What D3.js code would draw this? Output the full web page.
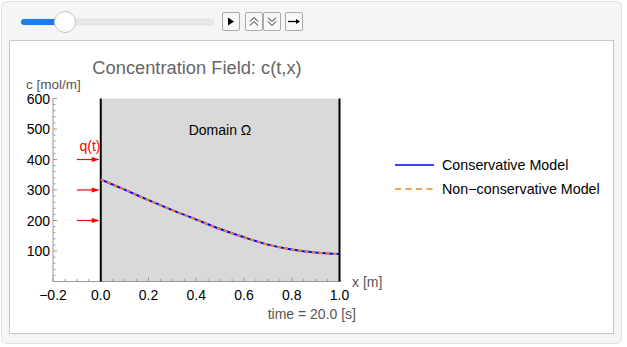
<!DOCTYPE html>
<html><head><meta charset="utf-8">
<script src="https://cdn.jsdelivr.net/npm/d3@7"></script>
<style>
html,body{margin:0;padding:0;background:#fff;}
svg{display:block;font-family:"Liberation Sans",Arial,sans-serif;}
</style></head>
<body><svg id="c" width="627" height="347"></svg>
<script>
// ---- data ----
const xValues = [0, 0.1, 0.2, 0.3, 0.4, 0.5, 0.6, 0.7, 0.8, 0.9, 1.0];
const conservative = [335, 301, 267, 234, 203, 172, 145, 121, 105, 95, 90];
const nonConservative = [335, 301, 267, 234, 203, 172, 145, 121, 105, 95, 90];
const xTicks = [-0.2, 0, 0.2, 0.4, 0.6, 0.8, 1.0];
const yTicks = [100, 200, 300, 400, 500, 600];
const fluxArrows = [400, 300, 200];
const seriesNames = ["Conservative Model", "Non\u2212conservative Model"];
const timeValue = 20.0;

const svg = d3.select("#c");
// outer frame
svg.append("rect").attr("x",1.5).attr("y",1.5).attr("width",620).attr("height",342)
  .attr("rx",5).attr("fill","#f5f5f5").attr("stroke","#e2e2e2");
// inner panel
svg.append("rect").attr("x",9.5).attr("y",40.5).attr("width",604).attr("height",293)
  .attr("fill","#fff").attr("stroke","#c8c8c8");

// slider
svg.append("rect").attr("x",21).attr("y",19).attr("width",193).attr("height",6).attr("rx",3)
  .attr("fill","#e8e8e8").attr("stroke","#d6d6d6").attr("stroke-width",0.5);
svg.append("rect").attr("x",21).attr("y",19).attr("width",42).attr("height",6).attr("rx",3).attr("fill","#1a7cf2");
svg.append("circle").attr("cx",65).attr("cy",22).attr("r",10.5).attr("fill","#fff").attr("stroke","#c4c4c4");
// buttons
const btns = [[222,"play"],[245,"up"],[263,"down"],[285,"arrow"]];
btns.forEach(([bx,t])=>{
  svg.append("rect").attr("x",bx+0.5).attr("y",12.5).attr("width",17).attr("height",18).attr("rx",1.5)
    .attr("fill","#f8f8f8").attr("stroke","#a9a9a9");
  const cx = bx+9, cy = 21.5;
  if(t==="play") svg.append("path").attr("d",`M${cx-3},${cy-4}L${cx+3},${cy}L${cx-3},${cy+4}Z`).attr("fill","#000");
  if(t==="up"){ [ -2, 2].forEach(o=>svg.append("path").attr("d",`M${cx-4},${cy+o+2}L${cx},${cy+o-2}L${cx+4},${cy+o+2}`).attr("fill","none").attr("stroke","#222").attr("stroke-width",1));}
  if(t==="down"){ [ -2, 2].forEach(o=>svg.append("path").attr("d",`M${cx-4},${cy+o-2}L${cx},${cy+o+2}L${cx+4},${cy+o-2}`).attr("fill","none").attr("stroke","#222").attr("stroke-width",1));}
  if(t==="arrow"){ svg.append("path").attr("d",`M${cx-6},${cy}L${cx+5},${cy}`).attr("stroke","#000").attr("stroke-width",1.3);
    svg.append("path").attr("d",`M${cx+6},${cy}L${cx+2},${cy-2.5}L${cx+2},${cy+2.5}Z`).attr("fill","#000");}
});

// scales
const x = d3.scaleLinear().domain([-0.2, 1.0]).range([53, 339.5]);
const y = d3.scaleLinear().domain([0, 600]).range([281.5, 98.5]);

// domain rectangle
svg.append("rect").attr("x",x(0)).attr("y",y(600)).attr("width",x(1)-x(0)).attr("height",y(0)-y(600)).attr("fill","#d9d9d9");

// axes
const axisCol = "#999";
const gy = svg.append("g").attr("transform",`translate(${x(-0.2)},0)`);
gy.append("line").attr("y1",y(0)).attr("y2",y(600)).attr("stroke",axisCol);
d3.range(20, 601, 20).forEach(v=>{
  const major = v%100===0;
  gy.append("line").attr("x1",0).attr("x2",major?4:2.5).attr("y1",y(v)).attr("y2",y(v)).attr("stroke",axisCol);
});
yTicks.forEach(v=>gy.append("text").attr("x",-3).attr("y",y(v)+5).attr("text-anchor","end").attr("font-size",14).attr("fill","#000").text(v));

const gx = svg.append("g");
gx.append("line").attr("x1",x(-0.2)).attr("x2",x(1.0)+2).attr("y1",y(0)).attr("y2",y(0)).attr("stroke",axisCol);
d3.range(-0.2, 1.0001, 0.05).forEach(v=>{
  const major = Math.abs(Math.round(v*10)%2)===0 && Math.abs(v*10-Math.round(v*10))<1e-6;
  gx.append("line").attr("x1",x(v)).attr("x2",x(v)).attr("y1",y(0)).attr("y2",y(0)-(major?4:2.5)).attr("stroke",axisCol);
});
xTicks.forEach(v=>gx.append("text").attr("x",x(v)).attr("y",y(0)+18).attr("text-anchor","middle").attr("font-size",14).attr("fill","#000")
  .text(d3.format(".1f")(v).replace("-","\u2212")));

// domain boundaries
[0,1].forEach(v=>svg.append("line").attr("x1",x(v)).attr("x2",x(v)).attr("y1",y(600)).attr("y2",y(0)).attr("stroke","#000").attr("stroke-width",2));

// flux arrows
fluxArrows.forEach(v=>{
  svg.append("line").attr("x1",x(-0.1)).attr("x2",x(0)-6).attr("y1",y(v)).attr("y2",y(v)).attr("stroke","#f00").attr("stroke-width",1.2);
  svg.append("path").attr("d",`M${x(0)-1},${y(v)}L${x(0)-9},${y(v)-2.5}L${x(0)-9},${y(v)+2.5}Z`).attr("fill","#f00");
});
svg.append("text").attr("x",x(-0.045)).attr("y",151).attr("text-anchor","middle").attr("font-size",14).attr("fill","#f00").text("q(t)");

// curves
const line = d3.line().x((d,i)=>x(xValues[i])).y(d=>y(d)).curve(d3.curveCatmullRom);
svg.append("path").attr("d",line(conservative)).attr("fill","none").attr("stroke","#0000ff").attr("stroke-width",2);
svg.append("path").attr("d",line(nonConservative)).attr("fill","none").attr("stroke","#f28522").attr("stroke-width",2).attr("stroke-dasharray","4,3");

// texts
svg.append("text").attr("x",197).attr("y",74).attr("text-anchor","middle").attr("font-size",18.3).attr("fill","#666").text("Concentration Field: c(t,x)");
svg.append("text").attr("x",26).attr("y",89).attr("font-size",13.5).attr("fill","#555").text("c [mol/m]");
svg.append("text").attr("x",220).attr("y",135).attr("text-anchor","middle").attr("font-size",14).attr("fill","#000").text("Domain \u03A9");
svg.append("text").attr("x",352).attr("y",287).attr("font-size",14).attr("fill","#555").text("x [m]");
svg.append("text").attr("x",356).attr("y",319).attr("text-anchor","end").attr("font-size",14).attr("fill","#555").text(`time = ${timeValue.toFixed(1)} [s]`);

// legend
const lg = svg.append("g");
[["#0000ff",null],["#f28522","6,4.5"]].forEach(([col,dash],i)=>{
  const ly = 165 + i*24;
  const l = lg.append("line").attr("x1",395).attr("x2",434).attr("y1",ly).attr("y2",ly).attr("stroke",col).attr("stroke-width",1.5);
  if(dash) l.attr("stroke-dasharray",dash);
  lg.append("text").attr("x",442).attr("y",ly+5).attr("font-size",14.3).attr("fill","#000").text(seriesNames[i]);
});
</script></body></html>
